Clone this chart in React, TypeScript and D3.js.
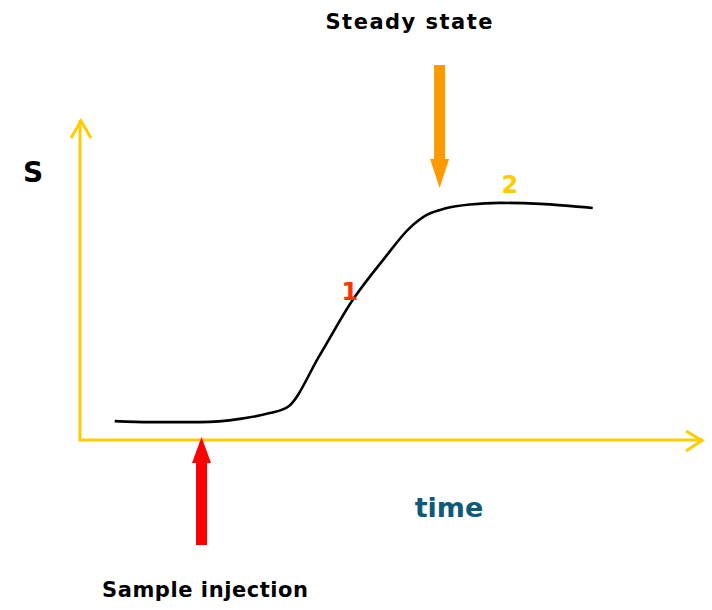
import React from "react";
import * as d3 from "d3";

const timeValues = [5.6, 11.3, 19.4, 25.8, 30.6, 33.5, 38.7, 44.0, 48.9, 53.2, 56.0, 59.0, 62.9, 67.7, 74.2, 82.7];
const signalValues = [5.9, 5.6, 5.6, 6.6, 8.4, 10.3, 26.6, 43.8, 56.3, 66.3, 70.4, 72.4, 73.6, 74.1, 73.8, 72.5];

const injectionTime = 19.6;
const steadyTime = 58.0;
const label1 = { t: 44.0, s: 43.8, text: "1" };
const label2 = { t: 69.0, s: 74.1, text: "2" };

const W = 712;
const H = 610;
const FONT = "'DejaVu Sans', 'Open Sans', sans-serif";

export default function App() {
  const x = d3.scaleLinear().domain([0, 100]).range([80, 700]);
  const y = d3.scaleLinear().domain([0, 100]).range([440, 120]);

  const pts: [number, number][] = timeValues.map((t, i) => [t, signalValues[i]]);
  const line = d3
    .line<[number, number]>()
    .x((d) => x(d[0]))
    .y((d) => y(d[1]))
    .curve(d3.curveMonotoneX);

  const axisColor = "#FFCC00";
  const x0 = x(0);
  const y0 = y(0);

  const ix = x(injectionTime);
  const sx = x(steadyTime);

  return (
    <svg
      width={W}
      height={H}
      style={{ position: "absolute", left: 0, top: 0, background: "#fff" }}
      viewBox={`0 0 ${W} ${H}`}
    >
      {/* axes */}
      <path
        d={`M${x0},120 L${x0},${y0} L703,${y0}`}
        fill="none"
        stroke={axisColor}
        strokeWidth={3}
      />
      <path d={`M71,138 L${x0 + 1},121 L91,138`} fill="none" stroke={axisColor} strokeWidth={3} />
      <path d={`M686,431 L702,${y0 + 0.5} L686,451`} fill="none" stroke={axisColor} strokeWidth={3} />

      {/* curve */}
      <path d={line(pts) || ""} fill="none" stroke="#000" strokeWidth={2.6} />

      {/* sample injection arrow */}
      <rect x={ix - 5.5} y={460} width={11} height={85} fill="#FF0000" />
      <path d={`M${ix - 9.5},463 L${ix},437 L${ix + 9.5},463 Z`} fill="#FF0000" />

      {/* steady state arrow */}
      <rect x={sx - 5.5} y={65} width={11} height={96} fill="#FF9900" />
      <path d={`M${sx - 9.5},159 L${sx},188 L${sx + 9.5},159 Z`} fill="#FF9900" />

      {/* labels */}
      <text x={409} y={29} textAnchor="middle" fontFamily={FONT} fontWeight="bold" fontSize={21} textLength={167} fill="#000">
        Steady state
      </text>
      <text x={205} y={597} textAnchor="middle" fontFamily={FONT} fontWeight="bold" fontSize={21} textLength={206} fill="#000">
        Sample injection
      </text>
      <text x={449} y={517} textAnchor="middle" fontFamily={FONT} fontWeight="bold" fontSize={27} fill="#0E5A78">
        time
      </text>
      <text x={33} y={182} textAnchor="middle" fontFamily={FONT} fontWeight="bold" fontSize={28} fill="#000">
        S
      </text>
      <text x={x(label1.t) - 3} y={y(label1.s)} textAnchor="middle" fontFamily={FONT} fontWeight="bold" fontSize={24} fill="#FF3300">
        {label1.text}
      </text>
      <text x={x(label2.t) + 2} y={y(label2.s) - 10} textAnchor="middle" fontFamily={FONT} fontWeight="bold" fontSize={24} fill="#FFCC00">
        {label2.text}
      </text>
    </svg>
  );
}
